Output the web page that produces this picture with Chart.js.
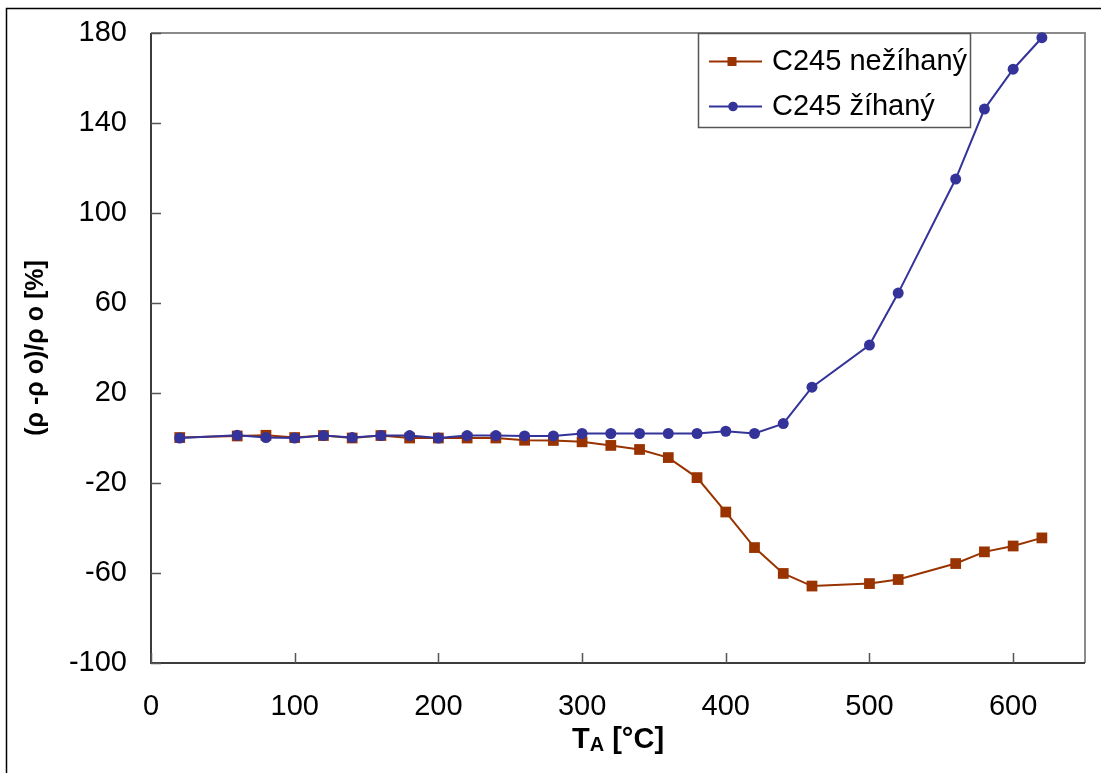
<!DOCTYPE html>
<html>
<head>
<meta charset="utf-8">
<script src="https://cdn.jsdelivr.net/npm/chart.js@4.4.0/dist/chart.umd.min.js"></script>
<style>
  html, body { margin: 0; padding: 0; background: #ffffff; }
  canvas { display: block; }
</style>
</head>
<body>
<canvas id="chart" width="1101" height="773"></canvas>
<script>
// Annealing temperature T_A [°C]
const temperatures = [20, 60, 80, 100, 120, 140, 160, 180, 200, 220, 240, 260, 280, 300,
                      320, 340, 360, 380, 400, 420, 440, 460, 500, 520, 560, 580, 600, 620];

// Relative resistivity change (ρ-ρ0)/ρ0 [%]
const unannealedValues = [0.2, 0.9, 1.2, 0.2, 1.1, 0.0, 1.1, 0.0, 0.0, 0.0, 0.0, -1.0, -1.1, -1.7,
                          -3.3, -5.1, -8.7, -17.6, -32.9, -48.7, -60.2, -65.8, -64.7, -62.9, -55.8, -50.6, -48.0, -44.4];
const annealedValues   = [0.0, 1.2, 0.2, 0.0, 1.1, 0.2, 1.1, 1.1, 0.0, 1.1, 1.1, 0.9, 0.9, 2.0,
                          2.0, 2.0, 2.0, 2.0, 3.0, 2.0, 6.4, 22.6, 41.3, 64.4, 115.1, 146.2, 163.9, 177.9];

const seriesNames = ['C245 nežíhaný', 'C245 žíhaný'];
const seriesColors = ['#993300', '#333399'];

const xTicks = [0, 100, 200, 300, 400, 500, 600];
const yTicks = [-100, -60, -20, 20, 60, 100, 140, 180];

const FONT = '"Liberation Sans", Arial, Helvetica, sans-serif';

function toPoints(values) {
  return temperatures.map((t, i) => ({ x: t, y: values[i] }));
}

// Frame, inward tick marks, legend box and axis titles
const decorations = {
  id: 'decorations',
  beforeDraw(chart) {
    const ctx = chart.ctx;
    ctx.save();
    ctx.fillStyle = '#ffffff';
    ctx.fillRect(0, 0, chart.width, chart.height);
    // outer chart border
    ctx.strokeStyle = '#000000';
    ctx.lineWidth = 1.5;
    ctx.beginPath();
    ctx.moveTo(6.5, chart.height + 5);
    ctx.lineTo(6.5, 8.5);
    ctx.lineTo(chart.width + 5, 8.5);
    ctx.stroke();
    ctx.restore();
  },
  beforeDatasetsDraw(chart) {
    const { ctx, chartArea: a, scales } = chart;
    ctx.save();
    // top and right plot borders
    ctx.strokeStyle = '#8a8a8a';
    ctx.lineWidth = 2;
    ctx.beginPath();
    ctx.moveTo(a.left, a.top);
    ctx.lineTo(a.right, a.top);
    ctx.lineTo(a.right, a.bottom);
    ctx.stroke();
    // axis lines
    ctx.strokeStyle = '#3c3c3c';
    ctx.beginPath();
    ctx.moveTo(a.left, a.top);
    ctx.lineTo(a.left, a.bottom);
    ctx.lineTo(a.right, a.bottom);
    ctx.stroke();
    // inward tick marks
    ctx.strokeStyle = '#555555';
    ctx.lineWidth = 1.5;
    ctx.beginPath();
    xTicks.forEach(v => {
      const px = Math.round(scales.x.getPixelForValue(v)) + 0.5;
      ctx.moveTo(px, a.bottom);
      ctx.lineTo(px, a.bottom - 10);
    });
    yTicks.forEach(v => {
      const py = Math.round(scales.y.getPixelForValue(v)) + 0.5;
      ctx.moveTo(a.left, py);
      ctx.lineTo(a.left + 10, py);
    });
    ctx.stroke();
    ctx.restore();
  },
  afterDraw(chart) {
    const ctx = chart.ctx;
    const a = chart.chartArea;
    ctx.save();

    // legend box
    const lx = 698.5, ly = 33.5, lw = 272, lh = 94;
    ctx.fillStyle = '#ffffff';
    ctx.fillRect(lx, ly, lw, lh);
    ctx.strokeStyle = '#555555';
    ctx.lineWidth = 1.5;
    ctx.strokeRect(lx, ly, lw, lh);
    const rows = [61.5, 106.5];
    chart.data.datasets.forEach((ds, i) => {
      const y = rows[i];
      ctx.strokeStyle = ds.borderColor;
      ctx.lineWidth = 2;
      ctx.beginPath();
      ctx.moveTo(709, y);
      ctx.lineTo(762, y);
      ctx.stroke();
      ctx.fillStyle = ds.backgroundColor;
      if (ds.pointStyle === 'rect') {
        ctx.fillRect(727.5, y - 4.5, 9, 9);
      } else {
        ctx.beginPath();
        ctx.arc(733, y, 4.8, 0, Math.PI * 2);
        ctx.fill();
      }
      ctx.fillStyle = '#000000';
      ctx.font = '29px ' + FONT;
      ctx.textAlign = 'left';
      ctx.textBaseline = 'middle';
      ctx.fillText(ds.label, 772, y);
    });

    // x axis title with subscript
    ctx.fillStyle = '#000000';
    ctx.textBaseline = 'alphabetic';
    ctx.textAlign = 'left';
    const mainFont = 'bold 29px ' + FONT;
    const subFont = 'bold 20px ' + FONT;
    ctx.font = mainFont;
    const wT = ctx.measureText('T').width;
    const wRest = ctx.measureText(' [°C]').width;
    ctx.font = subFont;
    const wA = ctx.measureText('A').width;
    const total = wT + wA + wRest;
    let x = (a.left + a.right) / 2 - total / 2;
    ctx.font = mainFont;
    ctx.fillText('T', x, 748);
    x += wT;
    ctx.font = subFont;
    ctx.fillText('A', x, 751);
    x += wA;
    ctx.font = mainFont;
    ctx.fillText(' [°C]', x, 748);

    // y axis title
    ctx.translate(36, (a.top + a.bottom) / 2);
    ctx.rotate(-Math.PI / 2);
    ctx.font = 'bold 25px ' + FONT;
    ctx.textAlign = 'center';
    ctx.textBaseline = 'middle';
    ctx.fillText('(ρ -ρ o)/ρ o [%]', 0, 0);

    ctx.restore();
  }
};

new Chart(document.getElementById('chart'), {
  type: 'line',
  data: {
    datasets: [
      {
        label: seriesNames[0],
        data: toPoints(unannealedValues),
        borderColor: seriesColors[0],
        backgroundColor: seriesColors[0],
        borderWidth: 2,
        pointStyle: 'rect',
        pointRadius: 7.6,
        pointBorderWidth: 0,
        order: 1,
        clip: false
      },
      {
        label: seriesNames[1],
        data: toPoints(annealedValues),
        borderColor: seriesColors[1],
        backgroundColor: seriesColors[1],
        borderWidth: 2,
        pointStyle: 'circle',
        pointRadius: 5.5,
        pointBorderWidth: 0,
        order: 0,
        clip: false
      }
    ]
  },
  options: {
    responsive: false,
    animation: false,
    events: [],
    layout: { padding: { top: 33, right: 16, bottom: 0, left: 0 } },
    plugins: {
      legend: { display: false },
      tooltip: { enabled: false },
      title: { display: false }
    },
    scales: {
      x: {
        type: 'linear',
        min: 0,
        max: 650,
        afterBuildTicks: s => { s.ticks = xTicks.map(v => ({ value: v })); },
        afterFit: s => { s.height = 110; s.paddingLeft = 0; s.paddingRight = 0; },
        grid: { display: false, drawTicks: false },
        border: { display: false },
        ticks: {
          padding: 27,
          color: '#000000',
          font: { family: FONT, size: 29 }
        }
      },
      y: {
        type: 'linear',
        min: -100,
        max: 180,
        afterBuildTicks: s => { s.ticks = yTicks.map(v => ({ value: v })); },
        afterFit: s => { s.width = 151; s.paddingTop = 0; s.paddingBottom = 0; },
        grid: { display: false, drawTicks: false },
        border: { display: false },
        ticks: {
          padding: 24,
          color: '#000000',
          font: { family: FONT, size: 29 }
        }
      }
    }
  },
  plugins: [decorations]
});
</script>
</body>
</html>
